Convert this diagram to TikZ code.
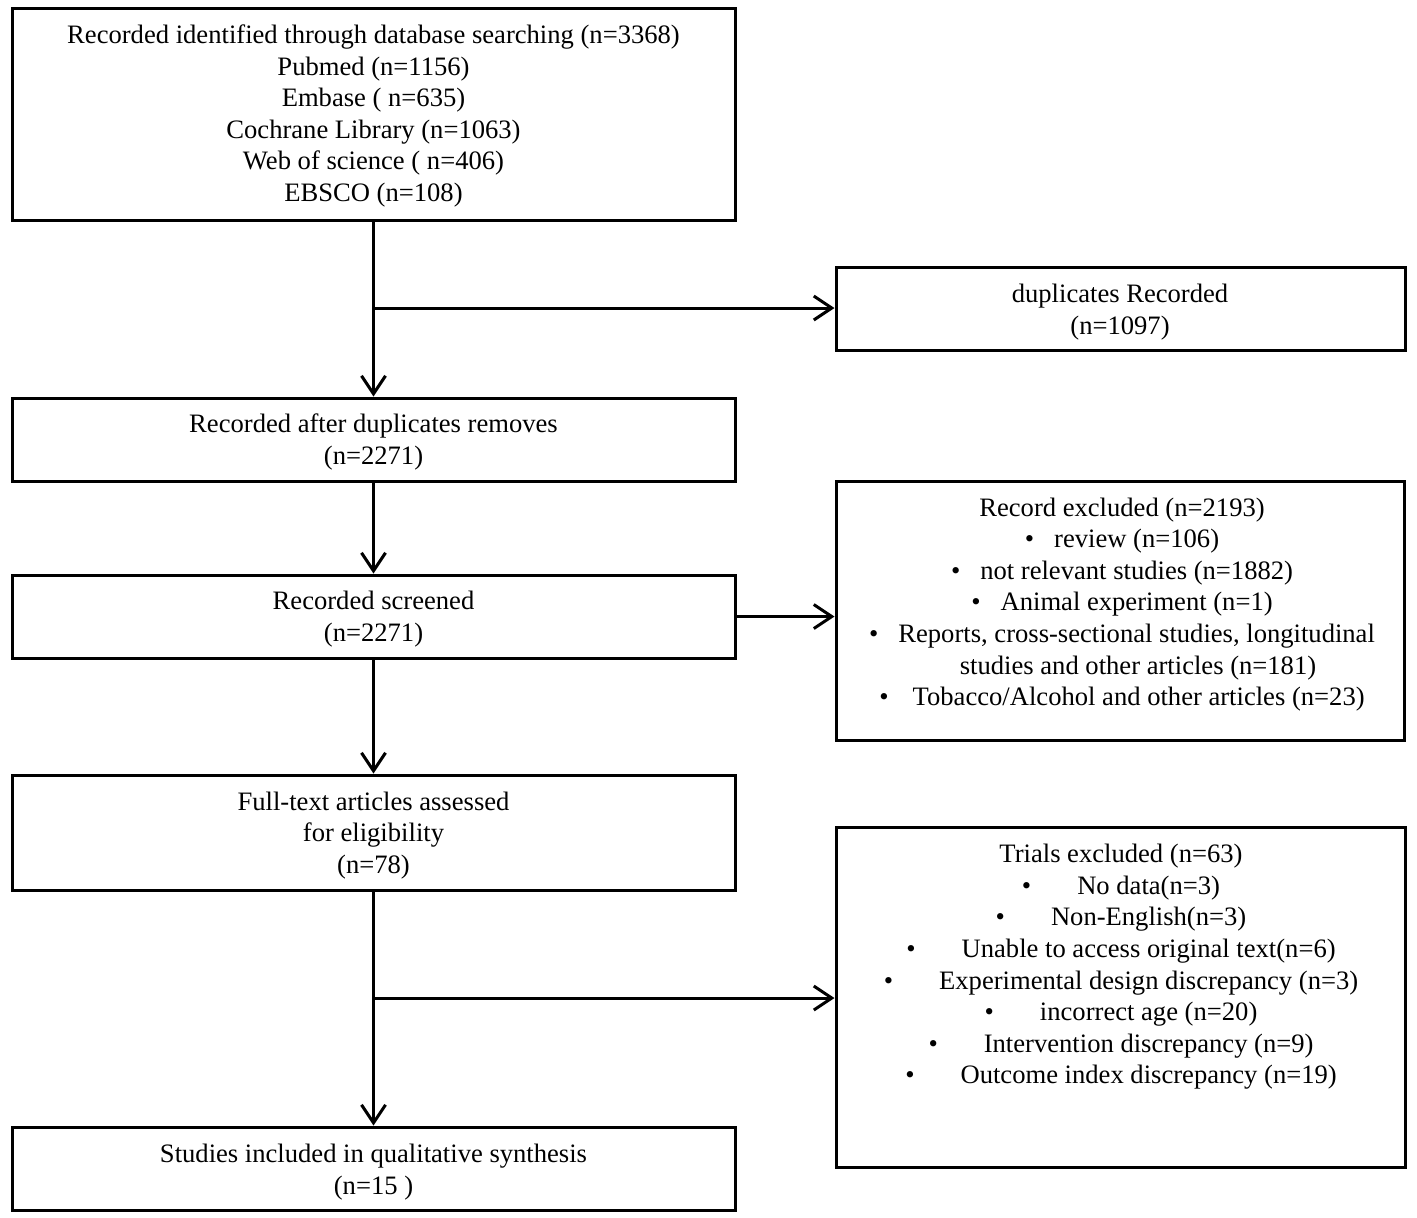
\documentclass[tikz,border=0pt]{standalone}
\usepackage{fontspec}
\setmainfont{Liberation Serif}
\usetikzlibrary{arrows.meta,fit}
\newcommand{\bulgap}[1]{\textbullet\hspace{#1}}
\begin{document}
\begin{tikzpicture}[x=0.5pt,y=-0.5pt,
  every node/.style={font=\fontsize{13.3}{15.8}\selectfont},
  box/.style={draw, line width=1.5pt, inner sep=0pt, align=center},
  txt/.style={align=center, inner sep=0pt},
  arr/.style={line width=1.5pt, -{Straight Barb[length=9pt,width=12pt,line width=1.5pt]}}]
\useasboundingbox (0,0) rectangle (1417,1217);
\node[box, fit={(12,8) (735,220)}] (b1) {};
\node[txt] (t1) at (373.5,116) {Recorded identified through database searching (n=3368)\\Pubmed (n=1156)\\Embase ( n=635)\\Cochrane Library (n=1063)\\Web of science ( n=406)\\EBSCO (n=108)};
\node[box, fit={(836,267) (1405,350)}] (dup) {};
\node[txt] (tdup) at (1120,312) {duplicates Recorded\\(n=1097)};
\node[box, fit={(12,398) (735,481)}] (b2) {};
\node[txt] (t2) at (373.5,442) {Recorded after duplicates removes\\(n=2271)};
\node[box, fit={(836,481) (1404,740)}] (ex1) {};
\node[txt] (tex1) at (1122,604.5) {Record excluded (n=2193)\\\bulgap{10pt}review (n=106)\\\bulgap{10pt}not relevant studies (n=1882)\\\bulgap{10pt}Animal experiment (n=1)\\\bulgap{10pt}Reports, cross-sectional studies, longitudinal\\\hspace*{16pt}studies and other articles (n=181)\\\bulgap{12pt}Tobacco/Alcohol and other articles (n=23)};
\node[box, fit={(12,575) (735,658)}] (b3) {};
\node[txt] (t3) at (373.5,619) {Recorded screened\\(n=2271)};
\node[box, fit={(12,775) (735,890)}] (b4) {};
\node[txt] (t4) at (373.5,835.5) {Full-text articles assessed\\for eligibility\\(n=78)};
\node[box, fit={(836,827) (1405,1167)}] (ex2) {};
\node[txt] (tex2) at (1121,967) {Trials excluded (n=63)\\\bulgap{23pt}No data(n=3)\\\bulgap{23pt}Non-English(n=3)\\\bulgap{23pt}Unable to access original text(n=6)\\\bulgap{23pt}Experimental design discrepancy (n=3)\\\bulgap{23pt}incorrect age (n=20)\\\bulgap{23pt}Intervention discrepancy (n=9)\\\bulgap{23pt}Outcome index discrepancy (n=19)};
\node[box, fit={(12,1127) (735,1210)}] (b5) {};
\node[txt] (t5) at (373.5,1172) {Studies included in qualitative synthesis\\(n=15 )};
\coordinate (j1) at (373.5,308);
\coordinate (j2) at (373.5,998);
\draw[arr] (b1.south) -- (b2.north);
\draw[arr] (j1) -- (j1 -| dup.west);
\draw[arr] (b2.south) -- (b3.north);
\draw[arr] (b3.east) -- (b3.east -| ex1.west);
\draw[arr] (b3.south) -- (b4.north);
\draw[arr] (b4.south) -- (b5.north);
\draw[arr] (j2) -- (j2 -| ex2.west);
\end{tikzpicture}
\end{document}
